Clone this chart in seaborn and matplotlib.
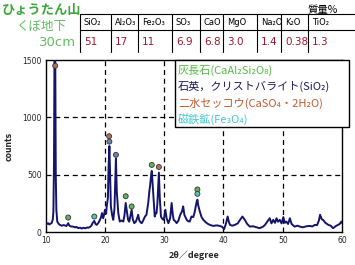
import matplotlib
matplotlib.use("Agg")
import matplotlib.pyplot as plt
import seaborn as sns
import pandas as pd
from matplotlib.lines import Line2D
from matplotlib.patches import Rectangle

# ---------------- data ----------------
two_theta = [10.0, 10.2, 10.4, 10.6, 10.8, 11.0, 11.2, 11.3, 11.4, 11.5, 11.6, 11.7, 11.8, 11.95,
             12.2, 12.4, 12.7, 13.0, 13.25, 13.5, 13.8, 14.0, 14.3, 14.65, 15.0, 15.2, 15.5, 15.8,
             16.1, 16.35, 16.7, 17.0, 17.2, 17.5, 17.7, 17.9, 18.2, 18.4, 18.6, 18.9, 19.15, 19.35,
             19.5, 19.7, 19.85, 20.0, 20.2, 20.3, 20.5, 20.6, 20.75, 20.9, 21.0, 21.2, 21.4, 21.6,
             21.75, 21.85, 22.0, 22.25, 22.5, 22.8, 23.1, 23.3, 23.5, 23.7, 23.9, 24.1, 24.3, 24.5,
             24.7, 24.95, 25.2, 25.5, 25.6, 25.8, 26.0, 26.2, 26.4, 26.75, 27.0, 27.3, 27.5, 27.6,
             27.8, 27.9, 28.0, 28.15, 28.3, 28.4, 28.55, 28.7, 28.85, 29.0, 29.1, 29.25, 29.45, 29.6,
             29.85, 30.0, 30.2, 30.4, 30.7, 31.0, 31.25, 31.45, 31.6, 31.85, 32.1, 32.4, 32.7, 33.0,
             33.2, 33.4, 33.8, 34.0, 34.3, 34.6, 34.9, 35.1, 35.3, 35.5, 35.6, 35.75, 36.0, 36.3,
             36.6, 37.0, 37.4, 37.8, 38.3, 38.8, 39.4, 39.8, 40.1, 40.4, 40.7, 40.9, 41.1, 41.5,
             41.9, 42.4, 42.8, 43.2, 43.6, 44.0, 44.45, 45.0, 45.6, 46.1, 46.7, 47.0, 47.4, 47.8,
             48.1, 48.4, 48.7, 48.95, 49.2, 49.5, 49.8, 50.1, 50.35, 50.6, 50.9, 51.2, 51.5, 52.0,
             52.5, 53.0, 53.4, 54.0, 54.6, 55.0, 55.4, 55.8, 56.1, 56.3, 56.6, 56.8, 57.2, 57.7,
             58.1, 58.5, 58.9, 59.3, 59.6, 59.9, 60.0]
counts = [62, 70, 77, 66, 72, 78, 110, 180, 600, 1750, 1700, 500, 194, 91,
          70, 62, 55, 60, 57, 52, 77, 55, 48, 47, 40, 45, 33, 38,
          30, 37, 32, 40, 37, 45, 55, 77, 97, 70, 62, 80, 106, 130,
          165, 120, 150, 194, 160, 223, 300, 550, 750, 450, 223, 150, 106, 200,
          450, 640, 350, 165, 91, 100, 91, 150, 253, 180, 106, 90, 140, 194,
          110, 77, 90, 130, 150, 100, 85, 77, 95, 135, 150, 253, 360, 397,
          500, 532, 450, 312, 200, 135, 160, 165, 250, 420, 518, 300, 135, 120,
          106, 130, 194, 120, 77, 120, 253, 150, 106, 95, 77, 100, 150, 180,
          223, 150, 106, 95, 91, 135, 130, 165, 220, 270, 282, 230, 180, 130,
          106, 85, 70, 60, 53, 58, 53, 45, 24, 70, 135, 90, 62, 55,
          62, 75, 106, 135, 106, 70, 47, 50, 41, 33, 47, 62, 91, 120,
          75, 106, 80, 120, 90, 106, 75, 130, 80, 91, 70, 120, 70, 47,
          55, 45, 41, 50, 53, 48, 62, 60, 100, 150, 110, 106, 80, 62,
          55, 33, 50, 62, 70, 91, 80]

marker_x = [11.6, 13.8, 18.2, 20.7, 20.75, 21.85, 23.5, 24.5, 27.9, 29.1, 35.6, 35.6]
marker_y = [1450, 126, 135, 835, 788, 673, 312, 223, 585, 567, 371, 333]
marker_phase = ["gypsum", "anorthite", "magnetite", "gypsum", "quartz", "quartz",
                "anorthite", "anorthite", "anorthite", "gypsum", "anorthite", "magnetite"]

oxides = ["SiO₂", "Al₂O₃", "Fe₂O₃", "SO₃", "CaO", "MgO", "Na₂O", "K₂O", "TiO₂"]
mass_pct = ["51", "17", "11", "6.9", "6.8", "3.0", "1.4", "0.38", "1.3"]

legend_labels = ["灰長石(CaAl₂Si₂O₈)", "石英，クリストバライト(SiO₂)",
                 "二水セッコウ(CaSO₄・2H₂O)", "磁鉄鉱(Fe₃O₄)"]

x_ticks = [10, 20, 30, 40, 50, 60]
y_ticks = [0, 500, 1000, 1500]

# ---------------- style ----------------
sns.set_style("white")
JP = ["Noto Sans CJK JP", "DejaVu Sans"]
plt.rcParams["font.family"] = JP

W, H = 355, 265
fig = plt.figure(figsize=(W / 100, H / 100), dpi=100)
fig.patch.set_facecolor("white")

def fx(px):
    return px / W

def fy(py):
    return 1 - py / H

ax = fig.add_axes([fx(45.7), fy(232), fx(342) - fx(45.7), fy(60) - fy(232)])

spec = pd.DataFrame({"two_theta": two_theta, "counts": counts})
sns.lineplot(data=spec, x="two_theta", y="counts", ax=ax, color="#14146a",
             linewidth=1.4, zorder=3)

phase_colors = {"gypsum": "#b07060", "quartz": "#7080a8",
                "anorthite": "#60b060", "magnetite": "#60c0b0"}
marks = pd.DataFrame({"x": marker_x, "y": marker_y, "phase": marker_phase})
sns.scatterplot(data=marks, x="x", y="y", hue="phase", palette=phase_colors,
                ax=ax, s=13, edgecolor="#333333", linewidth=0.6, legend=False, zorder=4)

ax.set_xlim(10, 60)
ax.set_ylim(0, 1500)
ax.set_xticks(x_ticks)
ax.set_yticks(y_ticks)
ax.set_xticklabels([str(t) for t in x_ticks], fontsize=5.5, family="DejaVu Sans")
ax.set_yticklabels([str(t) for t in y_ticks], fontsize=5.5, family="DejaVu Sans")
ax.tick_params(length=0, pad=3)
for t in [20, 30, 40, 50]:
    ax.axvline(t, color="black", linestyle=(0, (4, 3)), linewidth=0.9, zorder=1)
for t in [500, 1000]:
    ax.axhline(t, color="black", linestyle=(0, (4, 3)), linewidth=0.9, zorder=1)
for s in ax.spines.values():
    s.set_color("black")
    s.set_linewidth(1.0)
ax.set_xlabel("2θ／degree", fontsize=6.5, fontweight="bold", style="italic", labelpad=4)
ax.set_ylabel("counts", fontsize=5.5, fontweight="bold", family="DejaVu Sans", labelpad=6)

# ---------------- legend box ----------------
fig.add_artist(Rectangle((fx(175), fy(127)), fx(349) - fx(175), fy(60) - fy(127),
                         transform=fig.transFigure, facecolor="white",
                         edgecolor="black", linewidth=1.0, zorder=10))
leg_colors = ["#55bb44", "#1a1a5a", "#c05a30", "#40c8d0"]
leg_y = [70, 86.5, 103, 119]
for lab, c, yy in zip(legend_labels, leg_colors, leg_y):
    fig.text(fx(178), fy(yy), lab, color=c, fontsize=8.0, va="center", ha="left",
             family=JP, zorder=11)

# ---------------- title ----------------
fig.text(fx(2), fy(10), "ひょうたん山", color="#3aa83a", fontsize=9.5,
         fontweight="bold", va="center", ha="left", family=JP)
fig.text(fx(17), fy(26), "くぼ地下", color="#66bb66", fontsize=9.0,
         va="center", ha="left", family=JP)
fig.text(fx(76), fy(43), "30cm", color="#66bb66", fontsize=9.5,
         va="center", ha="right", family=["DejaVu Sans"])
fig.text(fx(338), fy(10), "質量%", color="black", fontsize=7.5,
         va="center", ha="right", family=JP)

# ---------------- composition table ----------------
col_left = [80, 111, 138, 172, 200, 223, 257, 281, 308]
tab_right = 355
for xl in col_left:
    fig.add_artist(Line2D([fx(xl), fx(xl)], [fy(14), fy(52)], transform=fig.transFigure,
                          color="black", linewidth=0.8))
fig.add_artist(Line2D([fx(80), fx(tab_right)], [fy(14), fy(14)], transform=fig.transFigure,
                      color="black", linewidth=0.8))
fig.add_artist(Line2D([fx(80), fx(tab_right)], [fy(30), fy(30)], transform=fig.transFigure,
                      color="black", linewidth=0.8))
for xl, ox, val in zip(col_left, oxides, mass_pct):
    fig.text(fx(xl + 4), fy(22.5), ox, fontsize=6.0, color="black", va="center",
             ha="left", family=["DejaVu Sans"])
    fig.text(fx(xl + 4), fy(42), val, fontsize=7.5, color="#a01830", va="center",
             ha="left", family=["DejaVu Sans"])

fig.savefig("out.png", dpi=100, facecolor="white")
